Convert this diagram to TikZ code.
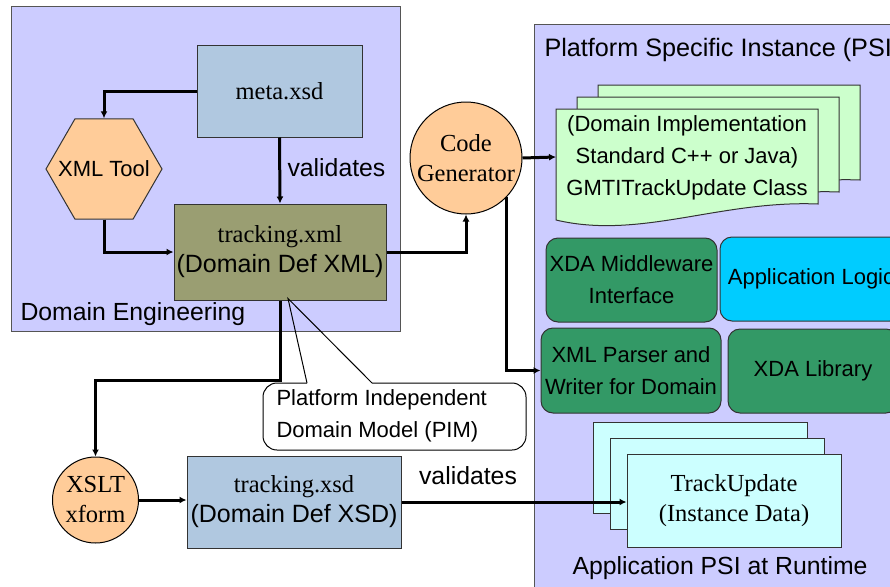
\documentclass[tikz,border=0pt]{standalone}
\usepackage{fontspec}
\setmainfont{Liberation Serif}
\setsansfont{Liberation Sans}
\usetikzlibrary{arrows.meta,shapes.geometric,calc}

\definecolor{lav}{HTML}{CCCCFF}
\definecolor{steel}{HTML}{B0C8E0}
\definecolor{olive}{HTML}{9A9E72}
\definecolor{peach}{HTML}{FFCC99}
\definecolor{mint}{HTML}{CCFFCC}
\definecolor{sea}{HTML}{339966}
\definecolor{sky}{HTML}{00CCFF}
\definecolor{ice}{HTML}{CCFFFF}
\definecolor{edge}{HTML}{333333}
\definecolor{frame}{HTML}{555555}

\tikzset{
  box/.style={draw=edge, line width=1, inner sep=0, align=center},
  region/.style={draw=frame, line width=1, fill=lav, inner sep=0},
  serifbig/.style={font=\rmfamily\fontsize{24.5}{30}\selectfont},
  sansbig/.style={font=\sffamily\fontsize{24.8}{30}\selectfont},
  sanssmall/.style={font=\sffamily\fontsize{22}{32}\selectfont},
  flow/.style={line width=3, -{Latex[length=7,width=7]}},
  docshape/.pic={
    \filldraw[fill=mint, draw=edge, line width=1]
      (0,0) -- (262,0) -- (262,95)
      .. controls (164,91) and (84,131) .. (0,111) -- cycle;
  }
}

\begin{document}
\begin{tikzpicture}[x=1pt,y=-1pt]
\clip (0,0) rectangle (890,586);
\fill[white] (0,0) rectangle (890,586);

% ---- Domain Engineering ----
\node[region, minimum width=389, minimum height=324] (deng) at (205.5,169) {};
\node[sansbig, anchor=west] (denglabel) at (17,314) {Domain Engineering};

\node[box, fill=steel, minimum width=165, minimum height=91, serifbig] (meta) at (279.5,91.5) {meta.xsd};
\node[draw=edge, line width=1, fill=peach, regular polygon, regular polygon sides=6,
      minimum size=116, inner sep=0] (tool) at (104,169) {};
\node[font=\sffamily\fontsize{22}{26}\selectfont] (toollabel) at (tool.center) {XML Tool};
\node[box, fill=olive, minimum width=212, minimum height=96, serifbig] (txml) at (280,252)
  {tracking.xml\\{\sffamily\fontsize{25}{30}\selectfont(Domain Def XML)}};
\node[sansbig, anchor=west] (val1) at (284,168) {validates};

% ---- Code generator ----
\node[circle, draw, line width=1, fill=peach, minimum size=112, inner sep=0, serifbig, align=center] (cg) at (466,158) {Code\\Generator};

% ---- Platform Specific Instance ----
\node[region, minimum width=380, minimum height=580, anchor=north west] (psi) at (534,24) {};
\node[font=\sffamily\fontsize{25.2}{30}\selectfont, anchor=west] (psititle) at (541,50) {Platform Specific Instance (PSI)};

\pic at (598,85) {docshape};
\pic at (577,97) {docshape};
\pic at (556,109) {docshape};
\node[sanssmall, align=center] (impl) at (687,158) {(Domain Implementation\\Standard C++ or Java)\\GMTITrackUpdate Class};
\coordinate (docin) at (556,157);

\node[box, rounded corners=12, fill=sea, minimum width=171, minimum height=84, sanssmall] (mw) at (631.5,280) {XDA Middleware\\Interface};
\node[box, rounded corners=12, fill=sky, minimum width=182, minimum height=84, sanssmall] (logic) at (811,279) {Application Logic};
\node[box, rounded corners=12, fill=sea, minimum width=180, minimum height=85, sanssmall] (parser) at (631,370.5) {XML Parser and\\Writer for Domain};
\node[box, rounded corners=12, fill=sea, minimum width=170, minimum height=84, sanssmall] (xdalib) at (813,371) {XDA Library};

\node[box, fill=ice, minimum width=214, minimum height=91] (tu3) at (700,467.5) {};
\node[box, fill=ice, minimum width=214, minimum height=91] (tu2) at (717,484) {};
\node[box, fill=ice, minimum width=214, minimum height=93, serifbig] (tu) at (734,500.5) {TrackUpdate\\(Instance Data)};
\node[sansbig] (runtime) at (720,568) {Application PSI at Runtime};

% ---- Schema generation ----
\node[circle, draw, line width=1, fill=peach, minimum size=86, inner sep=0, serifbig, align=center] (xslt) at (95.5,500) {XSLT\\xform};
\node[box, fill=steel, minimum width=214, minimum height=92, serifbig] (txsd) at (294,502)
  {tracking.xsd\\{\sffamily\fontsize{25}{30}\selectfont(Domain Def XSD)}};
\node[sansbig] (val2) at (468,476) {validates};

% ---- PIM callout ----
\draw[fill=white, line width=1, rounded corners=14]
  (372,383) -- (526,383) -- (526,450) -- (263,450) -- (263,383) -- (307,383);
\node[sanssmall, align=left, anchor=west] (pim) at (273,416) {Platform Independent\\Domain Model (PIM)};
\coordinate (tip) at ($(txml.south)+(8,-2)$);
\draw[line width=1] (307,383) -- (tip) -- (372,383);

% ---- connectors ----
\draw[flow] (meta.west) -| (tool.north);
\draw[flow] (meta.south) -- (txml.north);
\draw[flow] (tool.south) |- (txml.west);
\draw[flow] (txml.east) -| (cg.south);
\draw[flow] (cg.east) -- (docin);
\draw[flow] (cg.-44) |- (parser.west);
\draw[flow] (txml.south) -- ++(0,80) -| (xslt.north);
\draw[flow] (xslt.east) -- (xslt.east -| txsd.west);
\draw[flow] (txsd.east) -- (txsd.east -| tu.west);
\end{tikzpicture}
\end{document}
